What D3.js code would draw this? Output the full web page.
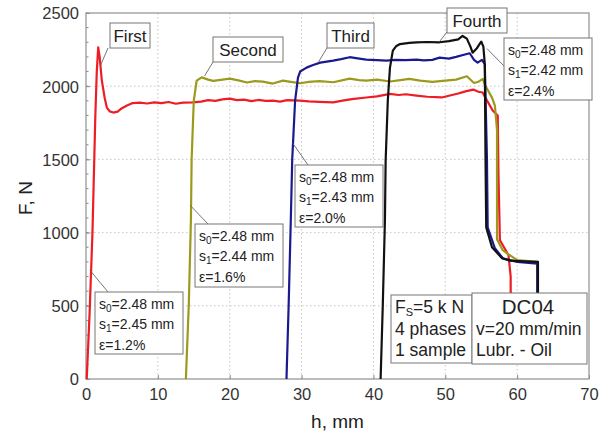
<!DOCTYPE html>
<html>
<head>
<meta charset="utf-8">
<script src="https://cdn.jsdelivr.net/npm/d3@7/dist/d3.min.js"></script>
<style>
  html, body { margin: 0; padding: 0; background: #fff; }
  svg { display: block; font-family: Arial, "Liberation Sans", sans-serif; }
</style>
</head>
<body>
<svg id="chart" width="607" height="436"></svg>
<script>
// Force–displacement curves, DC04 strip, four drawing phases on one sample.
// Each phase: [h (mm), F (N)]
const phaseFirst = [
  [0.1, 0], [0.5, 450], [0.9, 1000], [1.1, 1400], [1.3, 1800], [1.5, 2100], [1.7, 2265],
  [1.9, 2200], [2.2, 2040], [2.6, 1920], [2.9, 1854], [3.3, 1828], [3.8, 1820], [4.4, 1826],
  [5.0, 1850], [5.7, 1868], [6.5, 1885], [7.5, 1888], [8.5, 1882], [9.5, 1890], [10.5, 1884],
  [11.5, 1892], [12.5, 1880], [13.5, 1888], [14.9, 1890], [16.0, 1895], [17.0, 1905],
  [18.0, 1900], [19.0, 1910], [20.0, 1915], [21.0, 1905], [22.0, 1908], [23.0, 1898],
  [24.0, 1906], [25.0, 1900], [26.0, 1902], [27.0, 1895], [28.0, 1905], [29.8, 1902],
  [31.0, 1896], [32.5, 1893], [34.4, 1890], [35.5, 1900], [37.0, 1912], [39.0, 1923],
  [40.5, 1930], [42.3, 1948], [43.5, 1940], [44.5, 1945], [46.0, 1936], [47.5, 1928],
  [49.5, 1923], [50.5, 1935], [51.8, 1950], [52.8, 1965], [53.9, 1977], [54.6, 1962],
  [55.2, 1957], [55.6, 1920], [56.6, 1834], [57.3, 1800], [57.4, 1400], [57.6, 950],
  [58.8, 845], [59.1, 700], [59.1, 150]
];
const phaseSecond = [
  [13.9, 0], [14.3, 500], [14.6, 1084], [14.7, 1500], [15.0, 1902], [15.4, 2038],
  [16.1, 2060], [17.0, 2045], [17.7, 2036], [19.0, 2045], [20.0, 2052], [21.2, 2040],
  [22.4, 2025], [23.5, 2035], [24.6, 2031], [26.0, 2018], [27.4, 2038], [28.5, 2030],
  [29.8, 2020], [31.0, 2030], [32.5, 2035], [34.4, 2027], [36.7, 2052], [38.0, 2042],
  [39.0, 2038], [40.5, 2045], [42.3, 2032], [43.5, 2040], [45.0, 2050], [46.5, 2038],
  [48.2, 2030], [50.0, 2038], [51.5, 2045], [53.0, 2068], [54.0, 2022], [54.6, 2030],
  [55.2, 2050], [55.5, 2010], [56.5, 1922], [56.9, 1868], [57.2, 1700], [57.2, 955],
  [58.0, 880], [58.7, 855], [60.0, 812], [62.8, 800], [62.8, 150]
];
const phaseThird = [
  [27.9, 0], [28.2, 500], [28.5, 1084], [28.7, 1500], [29.1, 1902], [29.5, 2058],
  [29.8, 2100], [30.7, 2127], [31.6, 2145], [32.6, 2161], [33.5, 2168], [34.4, 2175],
  [35.5, 2185], [36.7, 2198], [37.8, 2190], [39.0, 2182], [40.5, 2178], [41.8, 2175],
  [43.0, 2180], [44.5, 2178], [46.0, 2182], [47.0, 2176], [48.2, 2180], [49.2, 2195],
  [50.5, 2188], [51.5, 2200], [52.6, 2215], [53.4, 2225], [54.0, 2180], [54.5, 2161],
  [55.1, 2180], [55.5, 2150], [55.8, 1500], [55.9, 1036], [56.9, 893], [58.0, 825],
  [60.0, 800], [62.8, 788], [62.8, 150]
];
const phaseFourth = [
  [41.0, 0], [41.3, 500], [41.6, 1084], [41.7, 1493], [42.0, 1902], [42.3, 2127],
  [42.7, 2243], [43.2, 2275], [43.7, 2288], [45.0, 2296], [46.0, 2300], [47.5, 2302],
  [49.2, 2300], [50.5, 2308], [51.8, 2320], [52.4, 2343], [53.0, 2325], [53.5, 2270],
  [53.8, 2229], [54.4, 2260], [55.0, 2305], [55.3, 2270], [55.5, 2150], [55.6, 1500],
  [55.7, 1036], [56.5, 900], [57.9, 825], [59.0, 808], [61.0, 803], [62.9, 800],
  [62.9, 150]
];

const xTicks = [0, 10, 20, 30, 40, 50, 60, 70];
const yTicks = [0, 500, 1000, 1500, 2000, 2500];
const yMinorTicks = d3.range(0, 2501, 100);

const phaseNames = ["First", "Second", "Third", "Fourth"];
const phaseColors = ["#ee1c24", "#9c9a1c", "#1a1a8e", "#111111"];

// thickness annotations per phase
const s0Values = ["2.48", "2.48", "2.48", "2.48"];
const s1Values = ["2.45", "2.44", "2.43", "2.42"];
const strainValues = ["1.2", "1.6", "2.0", "2.4"];

const testInfo = ["5 k N", "4 phases", "1 sample"];
const materialInfo = ["DC04", "v=20 mm/min", "Lubr. - Oil"];

const svg = d3.select("#chart");
const M = { left: 86, right: 589, top: 13, bottom: 379 };

const x = d3.scaleLinear().domain([0, 70]).range([M.left, M.right]);
const y = d3.scaleLinear().domain([0, 2500]).range([M.bottom, M.top]);

// plot background
svg.append("rect")
  .attr("x", M.left).attr("y", M.top)
  .attr("width", M.right - M.left).attr("height", M.bottom - M.top)
  .attr("fill", "#fff");

// dotted grid
const grid = svg.append("g").attr("stroke", "#c8c8c8").attr("stroke-dasharray", "1.5,2.5").attr("stroke-width", 1);
xTicks.slice(1, -1).forEach(t => {
  grid.append("line").attr("x1", x(t)).attr("x2", x(t)).attr("y1", M.top).attr("y2", M.bottom);
});
yTicks.slice(1, -1).forEach(t => {
  grid.append("line").attr("x1", M.left).attr("x2", M.right).attr("y1", y(t)).attr("y2", y(t));
});

// axes (ticks inward)
const xAxis = d3.axisBottom(x).tickValues(xTicks).tickSize(-4).tickPadding(9).tickFormat(d3.format("d"));
const yAxis = d3.axisLeft(y).tickValues(yTicks).tickSize(-4).tickPadding(7).tickFormat(d3.format("d"));

const gx = svg.append("g").attr("transform", `translate(0,${M.bottom})`).call(xAxis);
const gy = svg.append("g").attr("transform", `translate(${M.left},0)`).call(yAxis);
[gx, gy].forEach(g => {
  g.select(".domain").remove();
  g.selectAll(".tick line").attr("stroke", "#888");
  g.selectAll(".tick text").attr("fill", "#333").style("font-size", "16.5px");
});
gy.selectAll(".tick text").attr("dy", "0.36em");

// minor ticks on the force axis
svg.append("g").selectAll("line").data(yMinorTicks).join("line")
  .attr("x1", M.left).attr("x2", M.left + 2.5)
  .attr("y1", d => y(d)).attr("y2", d => y(d))
  .attr("stroke", "#888");

// frame
svg.append("rect")
  .attr("x", M.left).attr("y", M.top)
  .attr("width", M.right - M.left).attr("height", M.bottom - M.top)
  .attr("fill", "none").attr("stroke", "#999").attr("stroke-width", 1.3);

// axis titles
svg.append("text").attr("x", (M.left + M.right) / 2).attr("y", 428)
  .attr("text-anchor", "middle").style("font-size", "19px").attr("fill", "#222").text("h, mm");
svg.append("text").attr("transform", "translate(32,198) rotate(-90)")
  .attr("text-anchor", "middle").style("font-size", "19px").attr("fill", "#222").text("F, N");

// curves
const line = d3.line().x(d => x(d[0])).y(d => y(d[1])).curve(d3.curveLinear);
const phases = [phaseFirst, phaseSecond, phaseThird, phaseFourth];
svg.append("g").selectAll("path").data(phases).join("path")
  .attr("d", line)
  .attr("fill", "none")
  .attr("stroke", (d, i) => phaseColors[i])
  .attr("stroke-width", 2.2)
  .attr("stroke-linejoin", "round");

// leader helper
function leader(x1, y1, x2, y2) {
  svg.append("line").attr("x1", x1).attr("y1", y1).attr("x2", x2).attr("y2", y2)
    .attr("stroke", "#666").attr("stroke-width", 0.9);
}
function box(bx, by, bw, bh) {
  svg.append("rect").attr("x", bx).attr("y", by).attr("width", bw).attr("height", bh)
    .attr("fill", "#fff").attr("stroke", "#777").attr("stroke-width", 1);
}

// phase name tags: box [x, y, w, h] and the curve point the leader points to
const nameTags = [
  { b: [110, 23, 40, 25], p: [2.0, 2140], from: [108, 48] },
  { b: [213, 37, 70, 25], p: [16.5, 2070], from: [213, 62] },
  { b: [327, 23, 47, 25], p: [32.3, 2161], from: [327, 48] },
  { b: [447, 8, 60, 25], p: [49.2, 2305], from: [447, 32] }
];
nameTags.forEach((t, i) => {
  leader(t.from[0], t.from[1], x(t.p[0]), y(t.p[1]));
  box(...t.b);
  svg.append("text").attr("x", t.b[0] + t.b[2] / 2).attr("y", t.b[1] + 18.5)
    .attr("text-anchor", "middle").style("font-size", "17px").attr("fill", "#222")
    .text(phaseNames[i]);
});

// thickness / strain annotations
const thickTags = [
  { b: [95, 292, 88, 62], p: [0.55, 743], from: [108, 292] },
  { b: [195, 224, 88, 63], p: [14.5, 1186], from: [208, 224] },
  { b: [295, 165, 88, 62], p: [28.8, 1609], from: [308, 165] },
  { b: [504, 38, 88, 62], p: [55.8, 2257], from: [504, 66] }
];
thickTags.forEach((t, i) => {
  leader(t.from[0], t.from[1], x(t.p[0]), y(t.p[1]));
  box(...t.b);
  const tx = t.b[0] + 4, ty = t.b[1] + 16.5;
  const g = svg.append("g").style("font-size", "14px").attr("fill", "#222");
  const l1 = g.append("text").attr("x", tx).attr("y", ty);
  l1.append("tspan").text("s");
  l1.append("tspan").attr("dy", 3).style("font-size", "10px").text("0");
  l1.append("tspan").attr("dy", -3).text("=" + s0Values[i] + " mm");
  const l2 = g.append("text").attr("x", tx).attr("y", ty + 20.5);
  l2.append("tspan").text("s");
  l2.append("tspan").attr("dy", 3).style("font-size", "10px").text("1");
  l2.append("tspan").attr("dy", -3).text("=" + s1Values[i] + " mm");
  g.append("text").attr("x", tx).attr("y", ty + 41).text("\u03b5=" + strainValues[i] + "%");
});

// test set-up box
box(391, 295, 81, 68);
const ti = svg.append("g").style("font-size", "17.5px").attr("fill", "#222");
const f1 = ti.append("text").attr("x", 395).attr("y", 313);
f1.append("tspan").text("F");
f1.append("tspan").attr("dy", 2.5).style("font-size", "11px").text("S");
f1.append("tspan").attr("dy", -2.5).text("=" + testInfo[0]);
ti.append("text").attr("x", 395).attr("y", 335).text(testInfo[1]);
ti.append("text").attr("x", 395).attr("y", 356).text(testInfo[2]);

// material box
box(472, 293, 115, 71);
const mi = svg.append("g").attr("fill", "#222");
mi.append("text").attr("x", 528).attr("y", 314).attr("text-anchor", "middle")
  .style("font-size", "20.5px").text(materialInfo[0]);
mi.append("text").attr("x", 476).attr("y", 335).style("font-size", "17.5px").text(materialInfo[1]);
mi.append("text").attr("x", 476).attr("y", 356).style("font-size", "17.5px").text(materialInfo[2]);
</script>
</body>
</html>
